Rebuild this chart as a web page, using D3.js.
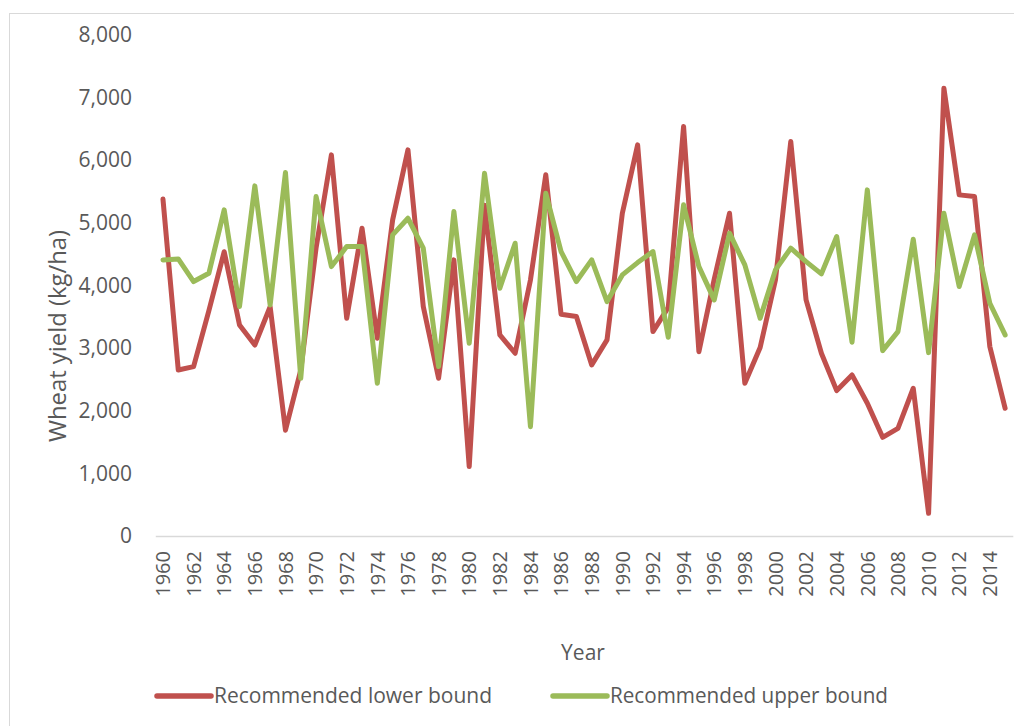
<!DOCTYPE html>
<html>
<head>
<meta charset="utf-8">
<script src="https://cdn.jsdelivr.net/npm/d3@7"></script>
<style>
  body { margin: 0; background: #fff; }
  svg { display: block; }
  text { font-family: "Open Sans", "Liberation Sans", Arial, sans-serif; fill: #595959; }
</style>
</head>
<body>
<svg id="chart" width="1014" height="726"></svg>
<script>
const years = d3.range(1960, 2016);
const lowerBound = [5380, 2650, 2705, 3600, 4540, 3370, 3050, 3660, 1690, 2650,
  4600, 6086, 3477, 4915, 3158, 5048, 6166, 3664, 2519, 4409,
  1108, 5280, 3211, 2918, 4089, 5767, 3541, 3504, 2732, 3131,
  5154, 6246, 3264, 3650, 6539, 2944, 4100, 5154, 2439, 3010,
  4089, 6299, 3770, 2918, 2322, 2572, 2119, 1576, 1720, 2359,
  362, 7151, 5447, 5421, 3024, 2039];
const upperBound = [4409, 4425, 4063, 4196, 5208, 3664, 5591, 3690, 5804, 2519,
  5421, 4302, 4622, 4622, 2439, 4808, 5074, 4595, 2705, 5181,
  3078, 5793, 3956, 4675, 1746, 5474, 4542, 4063, 4409, 3743,
  4169, 4366, 4542, 3173, 5288, 4302, 3770, 4835, 4329, 3477,
  4249, 4595, 4382, 4185, 4782, 3094, 5527, 2960, 3264, 4739,
  2928, 5154, 3983, 4808, 3717, 3211];
const yTicks = [0, 1000, 2000, 3000, 4000, 5000, 6000, 7000, 8000];
const seriesNames = ["Recommended lower bound", "Recommended upper bound"];
const seriesColors = ["#C0504D", "#9BBB59"];

const FONT = '"Open Sans", "Liberation Sans", Arial, sans-serif';
const svg = d3.select("#chart");

// outer chart border
svg.append("rect").attr("x", 9.5).attr("y", 13.5).attr("width", 1020).attr("height", 800)
  .attr("fill", "none").attr("stroke", "#d9d9d9").attr("stroke-width", 1);

const plotLeft = 155.3, plotRight = 1012.8, plotTop = 35, plotBottom = 536;

const x = d3.scaleBand().domain(years).range([plotLeft, plotRight]);
const y = d3.scaleLinear().domain([0, 8000]).range([plotBottom, plotTop]);

// y axis labels
const yAxis = d3.axisLeft(y).tickValues(yTicks).tickFormat(d3.format(",")).tickSize(0).tickPadding(0);
const yg = svg.append("g").attr("transform", `translate(132,0)`).call(yAxis);
yg.select(".domain").remove();
yg.selectAll("text").attr("font-size", 21).attr("fill", "#595959").style("font-family", FONT);

// x axis
const xAxis = d3.axisBottom(x).tickValues(years.filter(d => d % 2 === 0)).tickSize(0).tickPadding(0);
const xg = svg.append("g").attr("transform", `translate(0,${plotBottom})`).call(xAxis);
xg.select(".domain").attr("stroke", "#d9d9d9").attr("stroke-width", 1.5);
xg.selectAll("text")
  .attr("transform", "rotate(-90)")
  .attr("text-anchor", "end")
  .attr("x", -15)
  .attr("y", 0)
  .attr("dy", "0.36em")
  .attr("font-size", 20)
  .attr("fill", "#595959")
  .style("font-family", FONT);

// lines
const line = d3.line().x((d, i) => x(years[i]) + x.bandwidth() / 2).y(d => y(d));
[lowerBound, upperBound].forEach((s, k) => {
  svg.append("path").datum(s).attr("d", line).attr("fill", "none")
    .attr("stroke", seriesColors[k]).attr("stroke-width", 5)
    .attr("stroke-linejoin", "round").attr("stroke-linecap", "round");
});

// axis titles
svg.append("text").attr("transform", "translate(58,336) rotate(-90)")
  .attr("text-anchor", "middle").attr("dy", "0.35em").attr("font-size", 23)
  .attr("textLength", 212).attr("lengthAdjust", "spacingAndGlyphs")
  .text("Wheat yield (kg/ha)");
svg.append("text").attr("x", 583).attr("y", 660)
  .attr("text-anchor", "middle").attr("font-size", 21).text("Year");

// legend
const legendX = [157, 553];
seriesNames.forEach((n, k) => {
  const g = svg.append("g").attr("transform", `translate(${legendX[k]},696)`);
  g.append("line").attr("x1", 0).attr("x2", 54).attr("y1", 0).attr("y2", 0)
    .attr("stroke", seriesColors[k]).attr("stroke-width", 5.5).attr("stroke-linecap", "round");
  g.append("text").attr("x", 57).attr("y", 0).attr("dy", "0.35em")
    .attr("font-size", 21).attr("textLength", 278).attr("lengthAdjust", "spacingAndGlyphs").text(n);
});
</script>
</body>
</html>
